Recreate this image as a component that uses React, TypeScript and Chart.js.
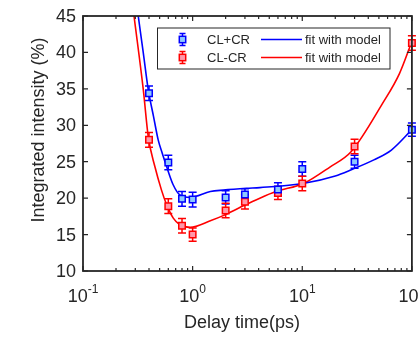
import React, { useEffect, useRef } from 'react';
import { Chart, registerables } from 'chart.js';

Chart.register(...registerables);

// ---- measured data ----
const delayTimes = [0.4, 0.6, 0.8, 1, 2, 3, 6, 10, 30, 100];
const clPlusCr = [34.4, 24.9, 19.9, 19.8, 20.1, 20.5, 21.2, 24.0, 25.0, 29.4];
const clPlusCrErr = [1.0, 1.0, 1.0, 1.0, 0.9, 0.8, 0.9, 1.0, 0.9, 0.9];
const clMinusCr = [28.0, 18.9, 16.2, 15.0, 18.3, 19.5, 20.7, 22.0, 27.1, 41.3];
const clMinusCrErr = [1.0, 1.0, 1.0, 0.9, 1.0, 1.0, 0.9, 1.0, 1.0, 1.0];

const fitPlusTimes = [0.3, 0.319, 0.355, 0.394, 0.44, 0.485, 0.53, 0.58, 0.666, 0.764, 0.95, 1.45, 1.9, 3.1, 4.1, 10.4, 20, 28, 45, 65, 100];
const fitPlusValues = [47.7, 45, 39.9, 34.85, 31.2, 28.0, 26.1, 24.3, 21.8, 20.45, 20.1, 20.9, 21.1, 21.35, 21.45, 22.05, 23.05, 23.9, 25.25, 26.6, 29.4];

const fitMinusTimes = [0.28, 0.292, 0.355, 0.394, 0.453, 0.52, 0.58, 0.666, 0.764, 0.95, 1.45, 1.9, 2.72, 4.1, 5.75, 10.4, 18, 28, 54, 77, 100];
const fitMinusValues = [47.2, 45, 34.85, 28.4, 24.3, 21.1, 19.07, 17.25, 16.35, 16.0, 16.9, 17.6, 18.75, 20.0, 20.9, 22.05, 24.3, 26.4, 33.0, 37.1, 41.5];

const yTickValues = [10, 15, 20, 25, 30, 35, 40, 45];
const xDecades = [0.1, 1, 10, 100];
const xExponents = ['-1', '0', '1', '2'];
const seriesNames = ['CL+CR', 'CL-CR'];
const fitName = 'fit with model';
const xTitle = 'Delay time(ps)';
const yTitle = 'Integrated intensity (%)';

const BLUE = '#0000ff';
const RED = '#ff0000';
const BLUE_FACE = '#8cc8ff';
const RED_FACE = '#ff98aa';
const AXIS = '#262626';
const FONT = '"Liberation Sans", Arial, sans-serif';

const toXY = (xs: number[], ys: number[]) => xs.map((x, i) => ({ x, y: ys[i] }));

const decor = {
  id: 'decor',
  beforeDatasetsDraw(chart: any) {
    const { ctx, chartArea } = chart;
    const xs = chart.scales.x;
    const ys = chart.scales.y;
    const sets = [
      { v: clPlusCr, e: clPlusCrErr, c: BLUE },
      { v: clMinusCr, e: clMinusCrErr, c: RED },
    ];
    ctx.save();
    ctx.lineWidth = 1.5;
    sets.forEach((s) => {
      ctx.strokeStyle = s.c;
      delayTimes.forEach((t, i) => {
        const px = xs.getPixelForValue(t);
        const y1 = ys.getPixelForValue(s.v[i] + s.e[i]);
        const y2 = ys.getPixelForValue(s.v[i] - s.e[i]);
        const cap = 4;
        ctx.beginPath();
        ctx.moveTo(px, y1);
        ctx.lineTo(px, y2);
        ctx.moveTo(px - cap, y1);
        ctx.lineTo(px + cap, y1);
        ctx.moveTo(px - cap, y2);
        ctx.lineTo(px + cap, y2);
        ctx.stroke();
      });
    });
    ctx.restore();
  },
  afterDraw(chart: any) {
    const { ctx, chartArea } = chart;
    const { left, right, top, bottom } = chartArea;
    const xs = chart.scales.x;
    const ys = chart.scales.y;
    ctx.save();
    // frame
    ctx.strokeStyle = AXIS;
    ctx.lineWidth = 1.8;
    ctx.strokeRect(left, top, right - left, bottom - top);

    // y ticks (inside, both sides)
    ctx.lineWidth = 1.2;
    ctx.beginPath();
    yTickValues.forEach((v) => {
      const py = ys.getPixelForValue(v);
      ctx.moveTo(left, py);
      ctx.lineTo(left + 5, py);
      ctx.moveTo(right, py);
      ctx.lineTo(right - 5, py);
    });
    // x ticks (log, inside, bottom and top)
    xDecades.forEach((d, di) => {
      const px = xs.getPixelForValue(d);
      ctx.moveTo(px, bottom);
      ctx.lineTo(px, bottom - 5);
      ctx.moveTo(px, top);
      ctx.lineTo(px, top + 5);
      if (di < xDecades.length - 1) {
        for (let m = 2; m <= 9; m++) {
          const mx = xs.getPixelForValue(d * m);
          ctx.moveTo(mx, bottom);
          ctx.lineTo(mx, bottom - 3);
          ctx.moveTo(mx, top);
          ctx.lineTo(mx, top + 3);
        }
      }
    });
    ctx.stroke();

    // y tick labels
    ctx.fillStyle = AXIS;
    ctx.font = `18px ${FONT}`;
    ctx.textAlign = 'right';
    ctx.textBaseline = 'middle';
    yTickValues.forEach((v) => {
      ctx.fillText(String(v), left - 7, ys.getPixelForValue(v) + 1);
    });

    // x tick labels with superscripts
    ctx.textAlign = 'left';
    ctx.textBaseline = 'alphabetic';
    xDecades.forEach((d, i) => {
      const px = xs.getPixelForValue(d);
      ctx.font = `18px ${FONT}`;
      const w1 = ctx.measureText('10').width;
      ctx.font = `12px ${FONT}`;
      const w2 = ctx.measureText(xExponents[i]).width;
      const start = px - (w1 + w2) / 2;
      ctx.font = `18px ${FONT}`;
      ctx.fillText('10', start, 302);
      ctx.font = `12px ${FONT}`;
      ctx.fillText(xExponents[i], start + w1, 293);
    });

    // axis titles
    ctx.font = `18px ${FONT}`;
    ctx.textAlign = 'center';
    ctx.fillText(xTitle, 242, 328);
    ctx.save();
    ctx.translate(44, 130);
    ctx.rotate(-Math.PI / 2);
    ctx.textBaseline = 'alphabetic';
    ctx.fillText(yTitle, 0, 0);
    ctx.restore();

    // legend
    const lx = 157.5, ly = 28, lw = 232.5, lh = 41;
    ctx.fillStyle = '#ffffff';
    ctx.fillRect(lx, ly, lw, lh);
    ctx.strokeStyle = AXIS;
    ctx.lineWidth = 1;
    ctx.strokeRect(lx, ly, lw, lh);
    const rows = [
      { y: 39.5, c: BLUE, f: BLUE_FACE, name: seriesNames[0] },
      { y: 57.5, c: RED, f: RED_FACE, name: seriesNames[1] },
    ];
    rows.forEach((r) => {
      const mx = 182.5;
      ctx.strokeStyle = r.c;
      ctx.lineWidth = 1.5;
      ctx.beginPath();
      ctx.moveTo(mx, r.y - 6);
      ctx.lineTo(mx, r.y + 6);
      ctx.moveTo(mx - 3, r.y - 6);
      ctx.lineTo(mx + 3, r.y - 6);
      ctx.moveTo(mx - 3, r.y + 6);
      ctx.lineTo(mx + 3, r.y + 6);
      ctx.stroke();
      ctx.fillStyle = r.f;
      ctx.fillRect(mx - 3.2, r.y - 3.2, 6.4, 6.4);
      ctx.strokeRect(mx - 3.2, r.y - 3.2, 6.4, 6.4);
      ctx.fillStyle = AXIS;
      ctx.font = `13px ${FONT}`;
      ctx.textAlign = 'left';
      ctx.textBaseline = 'middle';
      ctx.fillText(r.name, 207, r.y + 0.5);
      ctx.strokeStyle = r.c;
      ctx.lineWidth = 1.6;
      ctx.beginPath();
      ctx.moveTo(261, r.y);
      ctx.lineTo(302, r.y);
      ctx.stroke();
      ctx.fillStyle = AXIS;
      ctx.fillText(fitName, 305, r.y + 0.5);
    });
    ctx.restore();
  },
};

export default function App() {
  const ref = useRef<HTMLCanvasElement | null>(null);
  useEffect(() => {
    if (!ref.current) return;
    const markerBase = {
      showLine: false,
      pointStyle: 'rect',
      pointRadius: 4.6,
      pointBorderWidth: 1.5,
      clip: false,
    };
    const chart = new Chart(ref.current, {
      type: 'line',
      data: {
        datasets: [
          {
            ...markerBase,
            label: seriesNames[0],
            data: toXY(delayTimes, clPlusCr),
            borderColor: BLUE,
            pointBorderColor: BLUE,
            pointBackgroundColor: BLUE_FACE,
          },
          {
            ...markerBase,
            label: seriesNames[1],
            data: toXY(delayTimes, clMinusCr),
            borderColor: RED,
            pointBorderColor: RED,
            pointBackgroundColor: RED_FACE,
          },
          {
            label: fitName,
            data: toXY(fitPlusTimes, fitPlusValues),
            borderColor: BLUE,
            borderWidth: 1.6,
            pointRadius: 0,
            cubicInterpolationMode: 'monotone',
            fill: false,
            clip: 0,
          },
          {
            label: fitName,
            data: toXY(fitMinusTimes, fitMinusValues),
            borderColor: RED,
            borderWidth: 1.6,
            pointRadius: 0,
            cubicInterpolationMode: 'monotone',
            fill: false,
            clip: 0,
          },
        ] as any,
      },
      options: {
        responsive: false,
        animation: false,
        devicePixelRatio: 1,
        layout: { padding: { left: 83, right: 6, top: 16, bottom: 66 } },
        scales: {
          x: { type: 'logarithmic', min: 0.1, max: 100, display: false },
          y: { type: 'linear', min: 10, max: 45, display: false },
        },
        plugins: { legend: { display: false }, tooltip: { enabled: false } },
      } as any,
      plugins: [decor],
    });
    return () => chart.destroy();
  }, []);
  return (
    <div style={{ position: 'fixed', left: 0, top: 0, width: 418, height: 337, background: '#fff' }}>
      <canvas ref={ref} width={418} height={337} style={{ display: 'block' }} />
    </div>
  );
}
